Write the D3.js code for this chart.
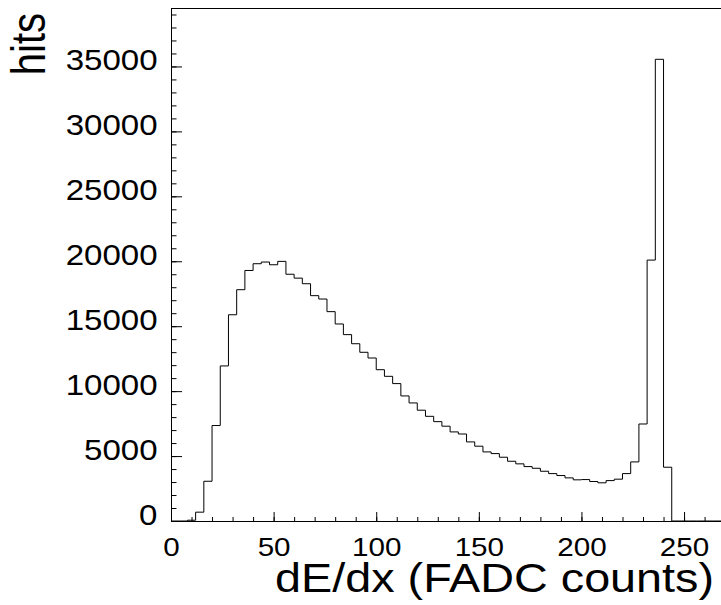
<!DOCTYPE html>
<html>
<head>
<meta charset="utf-8">
<script src="https://cdn.jsdelivr.net/npm/d3@7"></script>
<style>
  body { margin: 0; background: #fff; }
  text { font-family: "Liberation Sans", Arial, sans-serif; fill: #000; }
</style>
</head>
<body>
<svg id="chart" width="721" height="605"></svg>
<script>
// histogram of dE/dx, bins 4 counts wide starting at 0
var binWidth = 4;
var counts = [
  0, 0, 60, 680, 3060, 7350, 11940, 15880, 17810, 19290,
  19810, 19940, 19730, 19990, 19000, 18700, 18270, 17350, 17090, 16120,
  15170, 14350, 13650, 12990, 12550, 11650, 11140, 10580, 9630, 9090,
  8530, 8060, 7650, 7300, 6860, 6700, 6090, 5760, 5320, 5190,
  4910, 4600, 4400, 4190, 4060, 3830, 3650, 3500, 3320, 3170,
  3190, 3040, 2940, 3110, 3220, 3650, 4550, 7470, 20090, 35550,
  4140, 0, 0, 0, 0, 0, 0
];
var xMajor = [0, 50, 100, 150, 200, 250];
var yMajor = [0, 5000, 10000, 15000, 20000, 25000, 30000, 35000];
var xTitle = "dE/dx (FADC counts)";
var yTitle = "hits";

var margins = {left: 171, top: 8, bottom: 521};
var stretch = 1.14;

var svg = d3.select("#chart");

var xScale = d3.scaleLinear()
    .domain([0, 268])
    .range([margins.left, 721]);

var yScale = d3.scaleLinear()
    .domain([0, 39500])
    .range([margins.bottom, margins.top]);

// minor ticks first, majors and labels on top
var xMinor = d3.axisBottom(xScale)
    .tickValues(d3.range(0, 268, 10))
    .tickSizeInner(-4).tickSizeOuter(0)
    .tickFormat("");
svg.append("g")
    .attr("transform", "translate(0," + margins.bottom + ")")
    .call(xMinor);

var yMinor = d3.axisLeft(yScale)
    .tickValues(d3.range(0, 39500, 1000))
    .tickSizeInner(-5.5).tickSizeOuter(0)
    .tickFormat("");
svg.append("g")
    .attr("transform", "translate(" + margins.left + ",0)")
    .call(yMinor);

var xAxis = d3.axisBottom(xScale)
    .tickValues(xMajor)
    .tickSizeInner(-9).tickSizeOuter(0)
    .tickPadding(17)
    .tickFormat(d3.format("d"));
var gx = svg.append("g")
    .attr("transform", "translate(0," + margins.bottom + ")")
    .call(xAxis);
gx.selectAll("text")
    .attr("font-size", 26)
    .attr("font-family", null)
    .attr("transform", "scale(" + stretch + ",1)");

var yAxis = d3.axisLeft(yScale)
    .tickValues(yMajor)
    .tickSizeInner(-11).tickSizeOuter(0)
    .tickFormat(d3.format("d"));
var gy = svg.append("g")
    .attr("transform", "translate(" + margins.left + ",0)")
    .call(yAxis);
gy.selectAll("text")
    .attr("font-size", 29)
    .attr("font-family", null)
    .attr("x", -13.5 / stretch)
    .attr("dy", "0.12em")
    .attr("transform", "scale(" + stretch + ",1)");

svg.selectAll(".domain, .tick line").attr("stroke", "#000");

// top edge of the frame
svg.append("line")
    .attr("x1", margins.left).attr("x2", 721)
    .attr("y1", margins.top + 0.5).attr("y2", margins.top + 0.5)
    .attr("stroke", "#000");

// histogram outline
var pts = counts.map(function(c, i) { return [i * binWidth, c]; });
pts.push([counts.length * binWidth, 0]);

var stepLine = d3.line()
    .x(function(d) { return xScale(d[0]); })
    .y(function(d) { return yScale(d[1]); })
    .curve(d3.curveStepAfter);

svg.append("path")
    .datum(pts)
    .attr("d", stepLine)
    .attr("fill", "none")
    .attr("stroke", "#000")
    .attr("stroke-width", 1);

// axis titles
svg.append("text")
    .attr("transform", "translate(714,592) scale(" + stretch + ",1)")
    .attr("text-anchor", "end")
    .attr("font-size", 41)
    .text(xTitle);

svg.append("text")
    .attr("transform", "translate(45,13) scale(1.2,1) rotate(-90)")
    .attr("text-anchor", "end")
    .attr("font-size", 40)
    .text(yTitle);
</script>
</body>
</html>
